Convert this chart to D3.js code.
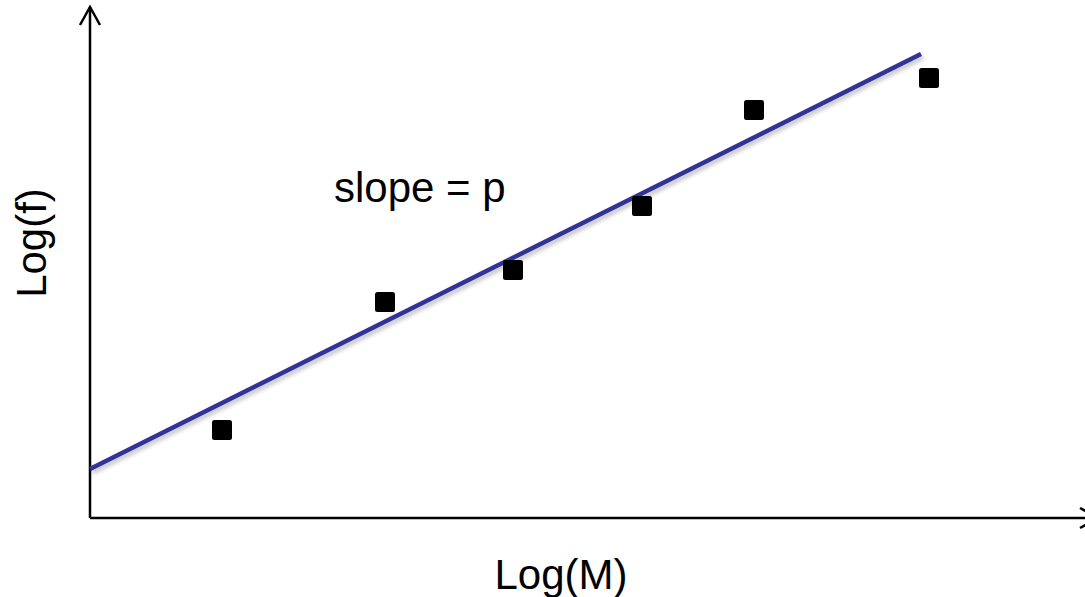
<!DOCTYPE html>
<html>
<head>
<meta charset="utf-8">
<script src="https://cdn.jsdelivr.net/npm/d3@7"></script>
<style>
  body { margin: 0; background: #fff; }
  svg { display: block; font-family: "Liberation Sans", Arial, sans-serif; }
</style>
</head>
<body>
<svg id="chart" width="1085" height="597"></svg>
<script>
// data points, in plot units (Log(M), Log(f))
const logM = [13.2, 29.5, 42.3, 55.2, 66.4, 83.9];
const logF = [17.6, 43.2, 49.6, 62.4, 81.6, 88.0];
// fitted line endpoints
const fitX = [0, 83.1];
const fitY = [9.8, 92.8];
const xLabel = "Log(M)";
const yLabel = "Log(f)";
const note = "slope = p";

const svg = d3.select("#chart");

const x = d3.scaleLinear().domain([0, 100]).range([90, 1090]);
const y = d3.scaleLinear().domain([0, 100]).range([518, 18]);

const defs = svg.append("defs");
const shadow = defs.append("filter").attr("id", "shadow")
  .attr("x", "-10%").attr("y", "-10%").attr("width", "120%").attr("height", "130%");
shadow.append("feDropShadow")
  .attr("dx", 2).attr("dy", 3).attr("stdDeviation", 2)
  .attr("flood-color", "#000").attr("flood-opacity", 0.25);

// axes with open arrow heads
const axisG = svg.append("g")
  .attr("stroke", "#000").attr("stroke-width", 2.5).attr("fill", "none");

axisG.append("line")
  .attr("x1", x(0)).attr("y1", y(0))
  .attr("x2", x(0)).attr("y2", 7);
axisG.append("path")
  .attr("d", `M${x(0) - 10},25 L${x(0)},7 L${x(0) + 10},25`);

axisG.append("line")
  .attr("x1", x(0)).attr("y1", y(0))
  .attr("x2", 1098).attr("y2", y(0));
axisG.append("path")
  .attr("d", `M1080,${y(0) - 10} L1098,${y(0)} L1080,${y(0) + 10}`);

// fit line
svg.append("line")
  .attr("x1", x(fitX[0])).attr("y1", y(fitY[0]))
  .attr("x2", x(fitX[1])).attr("y2", y(fitY[1]))
  .attr("stroke", "#333399")
  .attr("stroke-width", 4.5)
  .attr("filter", "url(#shadow)");

// points
const size = 20;
svg.selectAll(".pt")
  .data(logM.map((m, i) => ({ m, f: logF[i] })))
  .enter()
  .append("rect")
  .attr("class", "pt")
  .attr("x", (d) => x(d.m) - size / 2)
  .attr("y", (d) => y(d.f) - size / 2)
  .attr("width", size)
  .attr("height", size)
  .attr("rx", 2.5)
  .attr("fill", "#000");

// text
svg.append("text")
  .attr("x", 334).attr("y", 202)
  .attr("font-size", 42)
  .attr("fill", "#000")
  .text(note);

svg.append("text")
  .attr("x", 561).attr("y", 589)
  .attr("text-anchor", "middle")
  .attr("font-size", 42)
  .attr("fill", "#000")
  .text(xLabel);

svg.append("text")
  .attr("transform", "translate(46,243) rotate(-90)")
  .attr("text-anchor", "middle")
  .attr("font-size", 42)
  .attr("fill", "#000")
  .text(yLabel);
</script>
</body>
</html>
